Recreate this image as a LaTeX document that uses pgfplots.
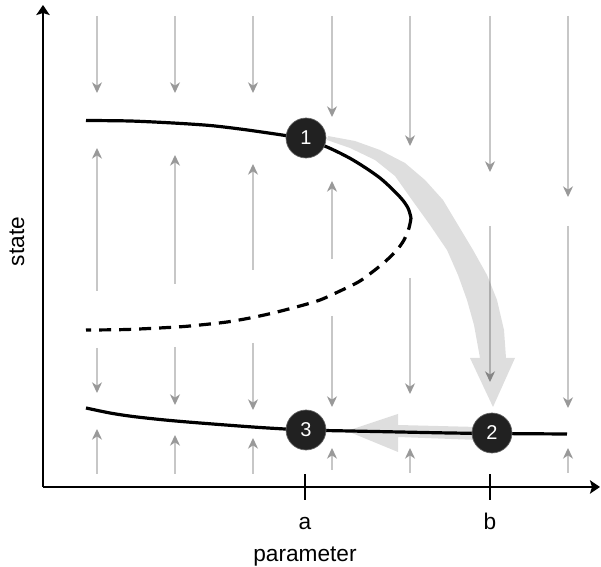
\documentclass[border=0pt]{standalone}
\usepackage{fontspec}
\setmainfont{Liberation Sans}
\usepackage{pgfplots}
\pgfplotsset{compat=1.18}
\usetikzlibrary{arrows.meta}
\definecolor{fieldline}{gray}{0.78}
\definecolor{fieldtip}{gray}{0.6}
\definecolor{nodefill}{gray}{0.13}

\pgfplotstableread{
x y u v
97 551 0 -77
97 276 0 143
97 219 0 -45
97 93 0 45
175 551 0 -77
175 283 0 129
175 220 0 -58
175 93 0 39
253 551 0 -77
253 297 0 106
253 224 0 -67
253 93 0 36
332 551 0 -101
332 308 0 78
332 251 0 -91
332 97 0 22
410 551 0 -130
410 289 0 -116
410 94 0 25
490 551 0 -156
490 341 0 -156
568 551 0 -181
568 341 0 -182
568 94 0 25
}\fieldtable

\pgfplotstableread{
x y lab
306 429 1
492 134 2
306 137 3
}\pointtable

\begin{document}
\begin{tikzpicture}
\begin{axis}[
  x=0.75pt, y=0.75pt,
  xmin=43, xmax=600, ymin=80, ymax=562,
  axis lines=left,
  axis line style={line width=2pt, -{Stealth[length=7.5pt,width=10pt,inset=1.5pt]}},
  enlargelimits=false,
  clip=false,
  xtick={305,490}, xticklabels={a,b},
  ytick=\empty,
  tick align=center,
  major tick length=19pt,
  major tick style={line width=1.5pt, black},
  xticklabel style={font=\fontsize{17}{20}\selectfont, anchor=base, yshift=-22.5pt},
  xlabel={parameter}, ylabel={state},
  label style={font=\fontsize{17}{20}\selectfont},
  xlabel style={at={(axis description cs:0.4704,-0.1540)}, anchor=base},
  ylabel style={at={(axis description cs:-0.0341,0.5093)}, anchor=base},
]
\coordinate (BL) at (axis cs:0,0);
\coordinate (TR) at (axis cs:601,567);

% vector field
\addplot[quiver={u=\thisrow{u},v=\thisrow{v}}, draw=fieldline, line width=1pt,
  -{Stealth[length=8pt,width=7.5pt,inset=2.5pt,color=fieldtip]}, mark=none]
  table[x=x,y=y] {\fieldtable};

% thick transition arrows
\addplot[fill=black, fill opacity=0.13, draw=none, mark=none] coordinates {
(327,427) (350,419) (375,407) (395,391) (412,367) (430,342) (447,317) (458,292)
(467,267) (474,242) (480,209) (470,209) (493,160) (515,209) (506,209) (504,237)
(497,267) (487,292) (473,317) (458,342) (443,367) (425,387) (405,404) (380,417)
(355,426) (328,431) (327,427)
};
\addplot[fill=black, fill opacity=0.13, draw=none, mark=none] coordinates {
(478,140) (398,142) (398,153) (347,136) (398,115) (398,130) (478,127) (478,140)
};

% upper stable branch
\addplot[black, line width=2.4pt, smooth, mark=none] coordinates {
(86,446.5) (130,446) (173,444) (210,441.5) (240,438) (265,434.5) (288,431)
(306,427) (327,420) (353,407) (380,389) (400,370) (408,359) (411,349)
};
% unstable branch
\addplot[black, line width=2.4pt, smooth, dash pattern=on 9pt off 6pt, mark=none] coordinates {
(411,349) (409,339) (404,327) (397,317) (388,308) (380,301) (360,286) (340,276)
(320,267) (300,261) (273,254) (250,249) (227,245) (200,242) (177,240) (127,237.5) (86,237)
};
% lower stable branch
\addplot[black, line width=2.4pt, smooth, mark=none] coordinates {
(86,159) (110,154) (133,150.5) (165,147) (200,144) (260,139.5) (306,137)
(350,136) (400,135) (450,134) (492,133.5) (567,133)
};

% numbered states
\addplot[only marks, mark=*, mark size=15pt,
  mark options={fill=nodefill, draw=black!60, line width=0.5pt},
  point meta=explicit symbolic, nodes near coords, nodes near coords align={center},
  every node near coord/.append style={anchor=center, text=white, font=\fontsize{15}{18}\selectfont}]
  table[x=x, y=y, meta=lab] {\pointtable};
\end{axis}
\pgfresetboundingbox
\path[use as bounding box] (BL) rectangle (TR);
\end{tikzpicture}
\end{document}
